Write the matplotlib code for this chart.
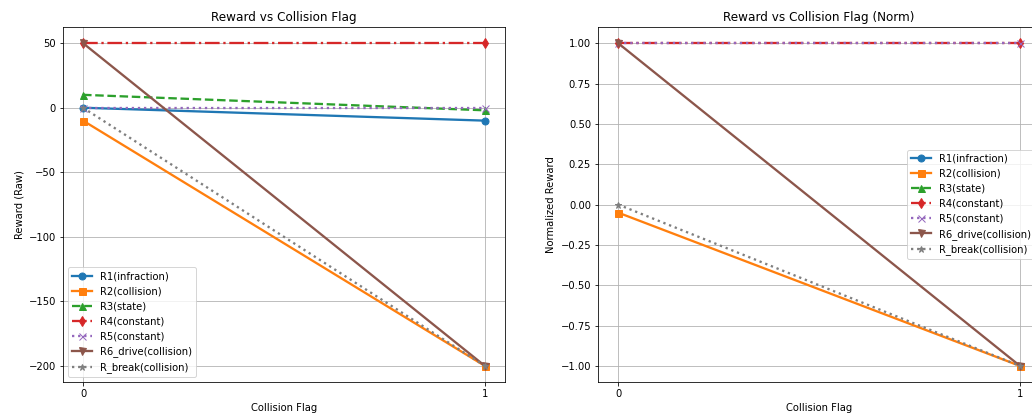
import numpy as np
import matplotlib
matplotlib.use('Agg')
import matplotlib.pyplot as plt

flag = [0, 1]
labels = ['R1(infraction)', 'R2(collision)', 'R3(state)', 'R4(constant)',
          'R5(constant)', 'R6_drive(collision)', 'R_break(collision)']

# raw rewards at collision flag 0 and 1
r1_raw = [0, -10]
r2_raw = [-10, -200]
r3_raw = [10, -2]
r4_raw = [50, 50]
r5_raw = [0, 0]
r6_raw = [50, -200]
rb_raw = [0, -200]

# normalized rewards (R1, R3 not visible in the reference)
r1_norm = [np.nan, np.nan]
r2_norm = [-0.05, -1.0]
r3_norm = [np.nan, np.nan]
r4_norm = [1.0, 1.0]
r5_norm = [1.0, 1.0]
r6_norm = [1.0, -1.0]
rb_norm = [0.0, -1.0]

styles = ['-o', '-s', '--^', '-.d', ':x', '-v', ':*']
colors = ['tab:blue', 'tab:orange', 'tab:green', 'tab:red',
          'tab:purple', 'tab:brown', 'tab:gray']

raw = [r1_raw, r2_raw, r3_raw, r4_raw, r5_raw, r6_raw, rb_raw]
norm = [r1_norm, r2_norm, r3_norm, r4_norm, r5_norm, r6_norm, rb_norm]

fig = plt.figure(figsize=(1032/72, 418/72), dpi=72)
ax1 = fig.add_axes([0.061, 0.086, 0.4283, 0.8493])
ax2 = fig.add_axes([0.5795, 0.086, 0.4283, 0.8493])

for i in range(len(labels)):
    ax1.plot(flag, raw[i], styles[i], color=colors[i], label=labels[i],
             linewidth=2.3, markersize=7)
ax1.set_title('Reward vs Collision Flag', fontsize=12)
ax1.set_xlabel('Collision Flag')
ax1.set_ylabel('Reward (Raw)')
ax1.set_xticks(flag)
ax1.grid(True)
ax1.legend(loc='lower left')

for i in range(len(labels)):
    ax2.plot(flag, norm[i], styles[i], color=colors[i], label=labels[i],
             linewidth=2.3, markersize=7)
ax2.set_title('Reward vs Collision Flag (Norm)', fontsize=12)
ax2.set_xlabel('Collision Flag')
ax2.set_ylabel('Normalized Reward')
ax2.set_xticks(flag)
ax2.set_ylim(-1.1, 1.1)
ax2.grid(True)
ax2.legend(loc='center right')

fig.savefig('out.png', dpi=72)
